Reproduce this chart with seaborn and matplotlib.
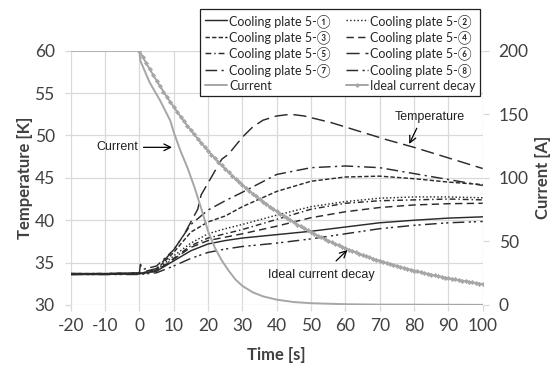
import numpy as np
import pandas as pd
import matplotlib
matplotlib.use("Agg")
import matplotlib.pyplot as plt
import seaborn as sns

# ---- temperature of the cooling plates [K] ----
t_base = [-20, -10, 0, 5, 10, 15, 20, 25, 30, 40, 50, 60, 70, 80, 90, 100]
temp_p1 = [33.6, 33.6, 33.7, 34.0, 35.2, 36.4, 37.2, 37.6, 37.9, 38.3, 38.7, 39.2, 39.7, 40.0, 40.25, 40.4]
temp_p2 = [33.7, 33.7, 33.7, 34.1, 35.8, 37.3, 38.4, 39.0, 39.5, 40.6, 41.6, 42.2, 42.6, 42.75, 42.75, 42.65]
temp_p3 = [33.7, 33.7, 33.7, 34.2, 36.2, 38.6, 39.8, 40.5, 41.6, 43.4, 44.6, 45.1, 45.2, 44.9, 44.5, 44.2]
temp_p4 = [33.6, 33.7, 33.7, 34.0, 35.4, 36.8, 37.6, 38.0, 38.4, 39.3, 40.3, 41.0, 41.5, 41.8, 41.95, 42.0]
temp_p5 = [33.7, 33.7, 33.7, 34.0, 35.5, 37.0, 37.9, 38.4, 38.9, 40.1, 41.3, 42.0, 42.3, 42.4, 42.5, 42.4]
temp_p8 = [33.6, 33.6, 33.6, 33.8, 34.6, 35.5, 36.2, 36.6, 36.9, 37.3, 37.8, 38.4, 39.0, 39.4, 39.7, 39.85]

t_p7 = [-20, -10, 0, 0.3, 1, 5, 10, 15, 20, 25, 30, 40, 50, 60, 70, 80, 90, 100]
temp_p7 = [33.7, 33.7, 33.8, 34.8, 34.2, 34.6, 36.5, 39.5, 41.2, 42.3, 43.3, 45.4, 46.2, 46.4, 46.2, 45.5, 44.8, 44.1]

t_p6 = [-20, -10, 0, 5, 10, 13, 15, 17, 18, 20, 22, 24, 26, 28, 30, 33, 36, 40, 44, 48,
        56, 64, 72, 80, 88, 100]
temp_p6 = [33.7, 33.7, 33.8, 34.3, 36.5, 38.3, 39.8, 41.3, 43.0, 44.4, 45.8, 47.2, 47.8, 48.8,
           49.8, 51.0, 51.8, 52.3, 52.5, 52.3, 51.5, 50.5, 49.5, 48.6, 47.6, 46.1]

# ---- measured coil current [A] ----
t_current = [-20, 0, 0.3, 3, 6, 9, 10, 12, 14, 16, 18, 20, 22, 24, 26, 28, 30, 33, 36, 40,
             45, 50, 60, 70, 100]
current = [200, 200, 192, 175, 161, 145, 136, 121, 108, 93, 76, 58, 45, 35, 27, 20, 15, 10,
           6.8, 4.2, 2.3, 1.4, 0.6, 0.3, 0.1]

# ---- ideal current decay [A], one value per second from 0 to 100 s ----
t_ideal = list(range(0, 101))
ideal_current = [
    200.0, 195.1, 190.2, 185.5, 181.0, 176.5, 172.1, 167.9, 163.7, 159.7,
    155.8, 151.9, 148.2, 144.5, 140.9, 137.5, 134.1, 130.8, 127.5, 124.4,
    121.3, 118.3, 115.4, 112.5, 109.8, 107.1, 104.4, 101.8, 99.3, 96.9,
    94.5, 92.1, 89.9, 87.6, 85.5, 83.4, 81.3, 79.3, 77.3, 75.4,
    73.6, 71.8, 70.0, 68.3, 66.6, 64.9, 63.3, 61.8, 60.2, 58.7,
    57.3, 55.9, 54.5, 53.2, 51.8, 50.6, 49.3, 48.1, 46.9, 45.8,
    44.6, 43.5, 42.5, 41.4, 40.4, 39.4, 38.4, 37.5, 36.5, 35.6,
    34.8, 33.9, 33.1, 32.3, 31.5, 30.7, 29.9, 29.2, 28.5, 27.8,
    27.1, 26.4, 25.8, 25.1, 24.5, 23.9, 23.3, 22.7, 22.2, 21.6,
    21.1, 20.6, 20.1, 19.6, 19.1, 18.6, 18.2, 17.7, 17.3, 16.9,
    16.4,
]

x_ticks = [-20, -10, 0, 10, 20, 30, 40, 50, 60, 70, 80, 90, 100]
temp_ticks = [30, 35, 40, 45, 50, 55, 60]
current_ticks = [0, 50, 100, 150, 200]

sns.set_theme(style="white")
plt.rcParams["font.family"] = ["Lato", "Noto Sans CJK JP", "DejaVu Sans"]
plt.rcParams["axes.unicode_minus"] = False

TEXT = "#404040"
GRID = "#d9d9d9"
LINE = "#2b2b2b"
GREY = "#a6a6a6"

fig = plt.figure(figsize=(5.58, 3.65), dpi=100)
ax = fig.add_axes([0.1267, 0.1644, 0.7384, 0.6967])
ax2 = ax.twinx()

plates = [
    ("Cooling plate 5-\u2460", t_base, temp_p1, "-"),
    ("Cooling plate 5-\u2461", t_base, temp_p2, (0, (1, 1.5))),
    ("Cooling plate 5-\u2462", t_base, temp_p3, (0, (3, 1.5))),
    ("Cooling plate 5-\u2463", t_base, temp_p4, (0, (5, 3))),
    ("Cooling plate 5-\u2464", t_base, temp_p5, (0, (4, 2, 1, 2))),
    ("Cooling plate 5-\u2465", t_p6, temp_p6, (0, (9, 4))),
    ("Cooling plate 5-\u2466", t_p7, temp_p7, (0, (8, 3, 1.5, 3))),
    ("Cooling plate 5-\u2467", t_base, temp_p8, (0, (8, 3, 1.5, 2, 1.5, 3))),
]

handles = {}
for label, tx, ty, ls in plates:
    sns.lineplot(x=tx, y=ty, ax=ax, color=LINE, linewidth=1.05, linestyle=ls,
                 label=label, legend=False)
    handles[label] = ax.get_lines()[-1]

sns.lineplot(x=t_current, y=current, ax=ax2, color=GREY, linewidth=1.4,
             label="Current", legend=False)
handles["Current"] = ax2.get_lines()[-1]
sns.lineplot(x=t_ideal, y=ideal_current, ax=ax2, color=GREY, linewidth=1.4,
             marker="D", markersize=2.6, markeredgewidth=0, label="Ideal current decay",
             legend=False)
handles["Ideal current decay"] = ax2.get_lines()[-1]

# axes ranges, ticks, grid
ax.set_xlim(-20, 100)
ax.set_ylim(30, 60)
ax2.set_ylim(0, 200)
ax.set_xticks(x_ticks)
ax.set_yticks(temp_ticks)
ax2.set_yticks(current_ticks)
ax.grid(True, color=GRID, linewidth=0.9)
ax2.grid(False)
for a in (ax, ax2):
    for s in a.spines.values():
        s.set_visible(False)
ax.tick_params(axis="both", which="both", colors=GRID, labelcolor=TEXT, labelsize=12.5,
               length=4.5, width=0.9, direction="out")
ax.tick_params(axis="y", pad=7, left=True)
ax.tick_params(axis="x", pad=5, bottom=True)
ax2.tick_params(axis="y", colors=GRID, labelcolor=TEXT, labelsize=12.5, length=4.5,
                width=0.9, direction="out", pad=7, right=True)

ax.set_xlabel("Time [s]", fontsize=12, fontweight="bold", color=TEXT)
ax.set_ylabel("Temperature [K]", fontsize=12, fontweight="bold", color=TEXT)
ax2.set_ylabel("Current [A]", fontsize=12, fontweight="bold", color=TEXT)
ax.xaxis.set_label_coords(0.5, -0.165)
ax.yaxis.set_label_coords(-0.092, 0.5)
ax2.yaxis.set_label_coords(1.128, 0.5)

# annotations: texts and arrows placed separately
arrow = dict(arrowstyle="->", color="black", lw=0.9, shrinkA=0, shrinkB=0)
ann_font = ["Liberation Sans", "DejaVu Sans"]
ax.text(-6.5, 48.6, "Current", fontsize=9, family=ann_font, color="#202020",
        ha="center", va="center")
ax.annotate("", xy=(9.5, 48.6), xytext=(1.2, 48.6), arrowprops=arrow)
ax.text(84.7, 52.2, "Temperature", fontsize=9, family=ann_font, color="#202020",
        ha="center", va="center")
ax.annotate("", xy=(78.6, 49.0), xytext=(80.8, 50.85), arrowprops=arrow)
ax.text(53.1, 33.55, "Ideal current decay", fontsize=9, family=ann_font, color="#202020",
        ha="center", va="center")
ax.annotate("", xy=(60.6, 36.5), xytext=(57.3, 35.2), arrowprops=arrow)

# legend laid out row by row in two columns
order = ["Cooling plate 5-\u2460", "Cooling plate 5-\u2462", "Cooling plate 5-\u2464",
         "Cooling plate 5-\u2466", "Current",
         "Cooling plate 5-\u2461", "Cooling plate 5-\u2463", "Cooling plate 5-\u2465",
         "Cooling plate 5-\u2467", "Ideal current decay"]
leg = ax2.legend([handles[k] for k in order], order, ncol=2, loc="upper right",
                 bbox_to_anchor=(0.860, 0.974), bbox_transform=fig.transFigure,
                 fontsize=9, frameon=True, fancybox=False,
                 edgecolor="#202020", framealpha=1.0, handlelength=1.8,
                 handletextpad=0.15, labelspacing=0.22, borderpad=0.35,
                 borderaxespad=0, columnspacing=1.2)
leg.get_frame().set_linewidth(0.9)
for txt in leg.get_texts():
    txt.set_color("#262626")
leg.set_zorder(10)

fig.savefig("out.png", dpi=100, facecolor="white")
